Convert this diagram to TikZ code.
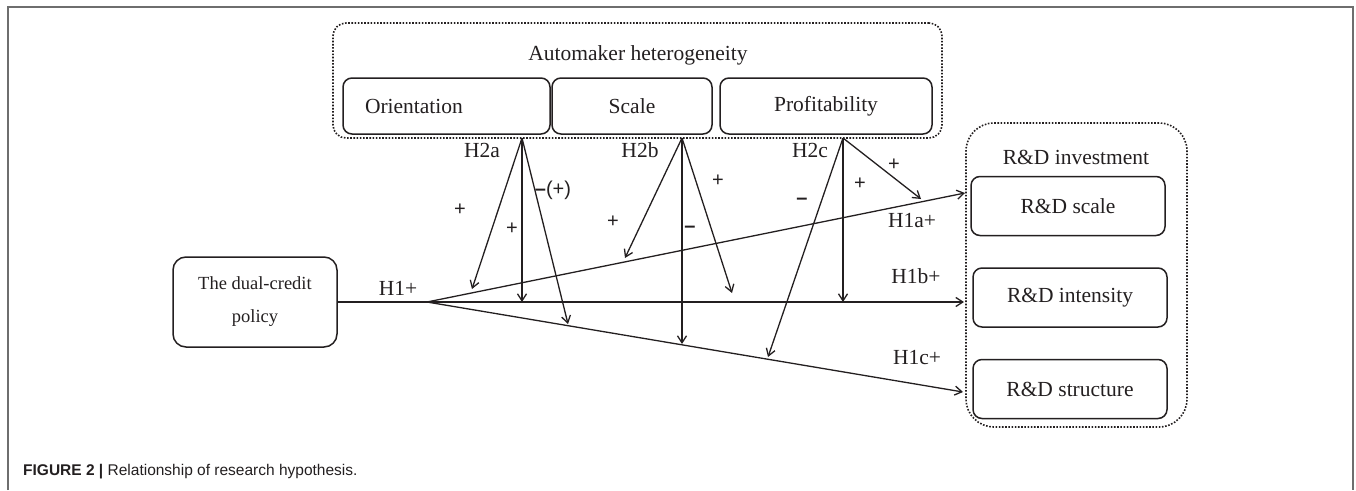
\documentclass[tikz,border=0pt]{standalone}
\usepackage{fontspec}
\setmainfont{Liberation Serif}
\setsansfont{Liberation Sans}
\usetikzlibrary{arrows.meta,positioning,calc}
\definecolor{bordercolor}{RGB}{35,31,32}
\definecolor{framecolor}{RGB}{110,110,110}
\tikzset{
    box/.style={
        rectangle,
        rounded corners=9pt,
        draw=bordercolor,
        line width=1.5pt,
        inner sep=0pt,
        text=bordercolor,
        font=\fontsize{21.5}{24}\selectfont
    },
    subbox/.style={box, minimum height=56pt},
    outbox/.style={box, minimum width=194pt, minimum height=59pt},
    group/.style={rectangle, draw=bordercolor, line width=1.6pt, dash pattern=on 1.6pt off 1.6pt, inner sep=0pt},
    hyp/.style={font=\fontsize{21.5}{24}\selectfont, text=bordercolor, inner sep=0pt},
    sign/.style={font=\sffamily\fontsize{20}{22}\selectfont, text=bordercolor, inner sep=0pt},
    link/.style={line width=1.3pt, draw=bordercolor},
    arrow/.style={link, -{Straight Barb[length=7pt,width=9pt]}}
}

\begin{document}
\begin{tikzpicture}[x=1pt, y=-1pt]
    \useasboundingbox (0,0) rectangle (1356,490);
    \draw[framecolor, line width=2pt] (8,490) -- (8,7) -- (1353,7) -- (1353,490);

    % Heterogeneity
    \node[group, rounded corners=13pt, minimum width=609pt, minimum height=115pt] (hetero) at (637.5,80.5) {};
    \node[hyp] (heterotitle) at (638,55) {Automaker heterogeneity};
    \node[subbox, minimum width=207pt, text width=163pt, inner xsep=22pt, align=left] (orient) at (446.5,106) {Orientation};
    \node[subbox, minimum width=160pt] (scale) at (632,106) {Scale};
    \node[subbox, minimum width=212pt] (profit) at (826,106) {Profitability};

    % R&D investment
    \node[group, rounded corners=28pt, minimum width=221pt, minimum height=304pt] (invest) at (1076.5,275) {};
    \node[hyp] (investtitle) at (1076,157) {R\&D investment};
    \node[outbox] (rdscale) at (1068,206) {R\&D scale};
    \node[outbox] (rdint) at (1070,297.5) {R\&D intensity};
    \node[outbox] (rdstruct) at (1070,389) {R\&D structure};

    % Policy
    \node[box, rounded corners=13pt, minimum width=164pt, minimum height=90pt, align=center,
          font=\fontsize{18.5}{33}\selectfont] (policy) at (255,302) {The dual-credit\\policy};

    % Main paths
    \coordinate (fork) at (427,302);
    \coordinate (ina) at (965,193);
    \coordinate (inb) at (964,302);
    \coordinate (inc) at (963,392);
    \draw[arrow] (policy.east) -- (inb);
    \draw[arrow] (fork) -- (ina);
    \draw[arrow] (fork) -- (inc);
    \node[hyp] (h1) at (398,288) {H1+};
    \node[hyp] (h1a) at (912,221) {H1a+};
    \node[hyp] (h1b) at (916,276) {H1b+};
    \node[hyp] (h1c) at (917,358) {H1c+};

    % Moderation
    \coordinate (ha) at (522,138);
    \coordinate (hb) at (682,138);
    \coordinate (hc) at (843,138);
    \coordinate (ta1) at (472,289);
    \coordinate (ta2) at (522,302);
    \coordinate (ta3) at (568,324);
    \coordinate (tb1) at (625,258);
    \coordinate (tb2) at (682,344);
    \coordinate (tb3) at (732,293);
    \coordinate (tc1) at (921,199);
    \coordinate (tc2) at (843,302);
    \coordinate (tc3) at (768,357);
    \foreach \src/\dst in {ha/ta1, ha/ta2, ha/ta3, hb/tb1, hb/tb2, hb/tb3, hc/tc1, hc/tc2, hc/tc3}
        \draw[arrow] (\src) -- (\dst);

    \node[hyp] (h2a) at (482,150) {H2a};
    \node[hyp] (h2b) at (640,150) {H2b};
    \node[hyp] (h2c) at (810,150) {H2c};

    \node[sign] (sa1) at (460,210) {+};
    \node[sign] (sa2) at (512,229) {+};
    \node[sign] (sa3) at (553,190) {\textbf{–}(+)};
    \node[sign] (sb1) at (613,222) {+};
    \node[sign] (sb2) at (690,229) {\textbf{–}};
    \node[sign] (sb3) at (718,181) {+};
    \node[sign] (sc1) at (894,165) {+};
    \node[sign] (sc2) at (860,184) {+};
    \node[sign] (sc3) at (802,201) {\textbf{–}};

    \node[anchor=west, inner sep=0pt, text=bordercolor, font=\sffamily\fontsize{15.5}{18}\selectfont] (caption) at (23,472)
        {\textbf{FIGURE 2 |} Relationship of research hypothesis.};
\end{tikzpicture}
\end{document}
